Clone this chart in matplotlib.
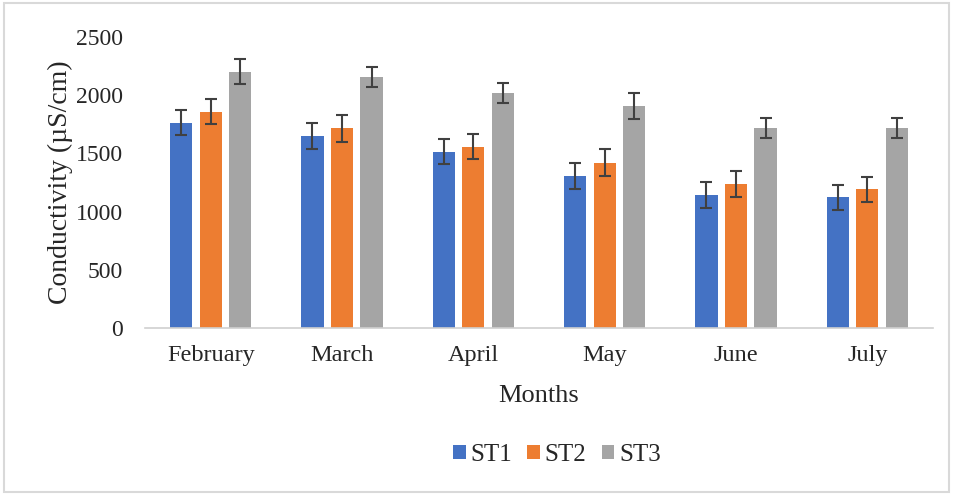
import matplotlib
matplotlib.use("Agg")
import matplotlib.pyplot as plt
import numpy as np
from matplotlib.patches import Rectangle

months = ["February", "March", "April", "May", "June", "July"]
series_names = ["ST1", "ST2", "ST3"]
st1 = [1764, 1650, 1515, 1306, 1143, 1123]
st2 = [1859, 1715, 1558, 1420, 1237, 1191]
st3 = [2202, 2160, 2022, 1907, 1721, 1721]
st1_err = [109, 114, 109, 109, 109, 106]
st2_err = [109, 114, 109, 115, 112, 108]
st3_err = [109, 86, 86, 109, 86, 86]
yticks = [0, 500, 1000, 1500, 2000, 2500]

colors = ["#4472C4", "#ED7D31", "#A5A5A5"]

plt.rcParams['font.family'] = ['Liberation Serif', 'DejaVu Serif']

fig = plt.figure(figsize=(9.57, 4.95), dpi=100)
ax = fig.add_axes([145/957, 1 - 328/495, (933 - 145)/957, (328 - 37)/495])

x = np.arange(len(months))
w = 0.17
off = 0.225
for i, (vals, errs) in enumerate(zip([st1, st2, st3], [st1_err, st2_err, st3_err])):
    ax.bar(x + (i - 1) * off, vals, w, color=colors[i], label=series_names[i],
           yerr=errs, capsize=4,
           error_kw=dict(ecolor="#404040", elinewidth=1.5, capthick=1.5))

ax.set_xlim(-0.5, len(months) - 0.5)
ax.set_ylim(0, 2500)
ax.set_yticks(yticks)
ax.set_yticklabels([str(v) for v in yticks], fontsize=17, color="#262626")
ax.set_xticks(x)
ax.set_xticklabels(months, fontsize=17.5, color="#262626")
ax.tick_params(axis='both', length=0)
ax.tick_params(axis='x', pad=12)
ax.tick_params(axis='y', pad=16)
for s in ["top", "right", "left"]:
    ax.spines[s].set_visible(False)
ax.spines["bottom"].set_color("#d0d0d0")
ax.spines["bottom"].set_linewidth(1.2)

ax.set_xlabel("Months", fontsize=19, color="#262626", labelpad=14)
ax.set_ylabel("Conductivity (µS/cm)", fontsize=20, color="#262626", labelpad=2)

handles, labels = ax.get_legend_handles_labels()
fig.legend(handles, labels, loc="center", bbox_to_anchor=(557/957, 1 - 455/495),
           ncol=3, frameon=False, fontsize=18, handlelength=0.5, handleheight=0.5,
           handletextpad=0.2, columnspacing=0.6, labelcolor="#262626")

fig.patches.append(Rectangle((4/957, 3/495), 1 - 12/957, 1 - 6/495, transform=fig.transFigure,
                             fill=False, edgecolor="#d9d9d9", linewidth=1.5))

fig.savefig("out.png", dpi=100)
